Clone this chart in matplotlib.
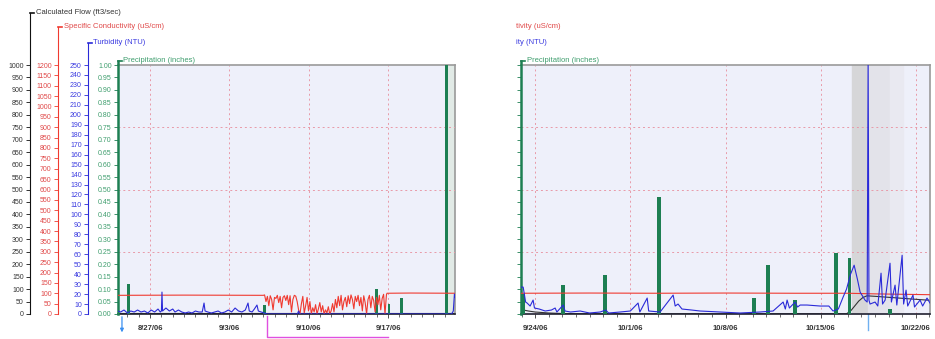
import matplotlib
matplotlib.use("Agg")
import matplotlib.pyplot as plt
import matplotlib.dates as mdates
from matplotlib.lines import Line2D
import numpy as np
import pandas as pd

plt.rcParams['font.family'] = ['Liberation Sans', 'DejaVu Sans']

W, H = 935, 339

# ---------------- left screen (days after 8/24/06 00:00) ----------------
left_origin = "2006-08-24"
left_span = (0.17, 29.9)

left_rain_day = [1.13, 13.06, 23.0, 24.08, 25.15, 29.12]
left_rain_in = [0.12, 0.035, 0.10, 0.04, 0.065, 1.00]

left_flow = [(0.17, 3), (29.9, 3)]

# conductivity: flat, then a noisy stretch logged every 3 h, then flat again
left_cond_before = [(0.17, 90), (6.0, 91), (13.0, 90)]
left_cond_noisy_start = 13.1
left_cond_noisy = [92, 60, 85, 40, 88, 70, 20, 80,
                   75, 90, 55, 85, 30, 80, 88, 65,
                   90, 45, 88, 10, 70, 90, 86, 60,
                   20, 0, 50, 85, 5, 40, 80, 15,
                   60, 0, 30, 10, 45, 0, 25, 55,
                   10, 40, 0, 20, 5, 35, 0, 15,
                   50, 10, 70, 30, 85, 40, 90, 20,
                   60, 80, 35, 88, 50, 92, 70, 25,
                   85, 60, 90, 40, 80, 15, 88, 55,
                   0, 70, 90, 30, 85, 65, 10, 80,
                   45, 90, 20, 75, 95, 0, 92]
left_cond_after = [(23.9, 100), (26.0, 101), (29.9, 100)]

left_turb_day = [0.17, 0.4, 0.7, 1.0, 1.3, 1.6, 1.9, 2.2, 2.5, 2.8,
                 3.1, 3.4, 3.7, 3.9, 4.0, 4.05, 4.1, 4.4, 4.7, 5.0,
                 5.2, 5.5, 5.8, 6.1, 6.4, 6.7, 7.0, 7.3, 7.6, 7.76,
                 7.85, 8.1, 8.4, 8.7, 9.0, 9.3, 9.6, 9.9, 10.2, 10.5,
                 10.8, 11.1, 11.4, 11.64, 11.75, 12.0, 12.2, 12.43, 12.55, 12.8,
                 13.1, 13.3, 16.0, 16.1, 16.2, 28.5, 29.6, 29.75, 29.85, 29.9]
left_turb_ntu = [3, 2, 4, 1, 3, 2, 4, 2, 3, 1,
                 4, 2, 5, 2, 3, 22, 3, 6, 3, 5,
                 2, 4, 2, 1, 2, 1, 3, 2, 2, 11,
                 3, 2, 1, 2, 3, 1, 2, 4, 2, 6,
                 3, 2, 4, 11, 3, 2, 5, 9, 3, 2,
                 1, 0, 0, 3, 0, 0, 0, 3, 20, 17]

# ---------------- right screen (days after 9/23/06 00:00) ----------------
right_origin = "2006-09-23"
right_span = (-0.04, 30.04)

right_rain_day = [0.12, 3.06, 6.15, 10.12, 17.1, 18.13, 20.1, 23.13, 24.1, 27.1]
right_rain_in = [0.08, 0.115, 0.155, 0.47, 0.065, 0.195, 0.055, 0.245, 0.225, 0.02]

right_flow = [(-0.04, 18), (0.5, 12), (1.0, 8), (2.0, 4), (3.0, 2), (5.0, 1),
              (23.9, 1), (24.2, 12), (24.5, 32), (24.8, 52), (25.1, 66), (25.4, 73),
              (26.0, 71), (27.0, 67), (28.0, 63), (29.0, 59), (30.04, 55)]

right_cond = [(-0.04, 100), (5, 101), (10, 100), (15, 101), (20, 100),
              (24, 100), (26, 97), (28, 95), (30.04, 93)]

right_turb = [(-0.04, 27), (0.12, 27), (0.3, 12), (0.41, 11), (0.63, 8), (0.85, 14),
              (0.95, 6), (1.3, 5), (1.74, 3), (2.2, 4), (2.47, 6), (2.6, 2), (3.06, 9),
              (3.2, 3), (3.6, 2), (4.31, 3), (5.0, 1), (5.78, 2), (6.2, 4), (6.4, 1),
              (7.25, 2), (8.0, 3), (8.57, 11), (8.7, 2), (9.24, 16), (9.35, 3),
              (10.19, 2), (11.15, 19), (11.3, 8), (11.51, 10), (11.8, 5), (12.5, 4),
              (13.13, 3), (14.6, 2), (16.07, 1), (17.54, 2), (18.5, 3), (19.24, 12),
              (19.4, 5), (19.53, 14), (19.7, 6), (20.12, 12), (20.3, 7), (20.49, 9),
              (21.0, 9), (21.96, 8), (22.6, 8), (22.91, 3), (23.3, 5), (23.65, 17),
              (23.9, 25), (24.2, 40), (24.46, 49), (24.7, 35), (24.9, 22), (25.26, 14),
              (25.42, 12), (25.49, 260), (25.55, 14), (25.63, 10), (26.0, 12), (26.2, 8),
              (26.44, 41), (26.55, 10), (26.74, 14), (27.1, 51), (27.2, 12), (27.47, 29),
              (27.6, 9), (27.99, 59), (28.1, 10), (28.28, 24), (28.4, 8), (28.79, 19),
              (28.9, 7), (29.31, 14), (29.5, 8), (29.82, 16), (30.04, 11)]

flow_ticks = list(range(0, 1001, 50))
cond_ticks = list(range(0, 1201, 50))
turb_ticks = list(range(0, 251, 10))
rain_ticks = [i / 20 for i in range(21)]
rain_grid = [0.25, 0.5, 0.75]

BLACK, RED, BLUE, GREEN = '#111111', '#f03a30', '#2a2ad8', '#1d7f52'
RED_T, BLUE_T, GREEN_T = '#e04848', '#3a3ae0', '#3f9e6e'


def xnum(origin, days):
    return mdates.date2num(pd.Timestamp(origin).to_pydatetime()) + np.asarray(days, float)


def unzip(pairs):
    return [p[0] for p in pairs], [p[1] for p in pairs]


fig = plt.figure(figsize=(W / 100, H / 100), dpi=100)


def fig_text(x, y, s, color):
    fig.text(x / W, 1 - y / H, s, color=color, fontsize=5.5, va='center', ha='left')


def fig_dash(x0, x1, y, color):
    fig.add_artist(Line2D([x0 / W, x1 / W], [1 - y / H, 1 - y / H], color=color, lw=1.2,
                          transform=fig.transFigure))


def make_panel(left, right, origin, span, rain_d, rain_v, flow, cond, turb, side_axes):
    rect = [left / W, (H - 314) / H, (right - left) / W, 249 / H]
    ax_f = fig.add_axes(rect)
    ax_r = fig.add_axes(rect, sharex=ax_f)
    ax_c = fig.add_axes(rect, sharex=ax_f)
    ax_t = fig.add_axes(rect, sharex=ax_f)
    ax_f.set_facecolor('#eef0fa')
    for ax in (ax_r, ax_c, ax_t):
        ax.patch.set_visible(False)
        ax.tick_params(axis='x', which='both', bottom=False, labelbottom=False)
        for s in ('top', 'right', 'bottom'):
            ax.spines[s].set_visible(False)

    ax_f.set_xlim(xnum(origin, span))
    ax_f.xaxis.set_major_locator(mdates.WeekdayLocator(byweekday=mdates.SU))
    ax_f.xaxis.set_minor_locator(mdates.DayLocator())
    ax_f.xaxis.set_major_formatter(mdates.DateFormatter('%-m/%-d/%y'))
    ax_f.tick_params(axis='x', which='major', length=3, width=0.6, pad=5,
                     labelsize=5.5, labelcolor='#333333', color='#333333')
    ax_f.tick_params(axis='x', which='minor', length=2, width=0.5, color='#333333')
    for lab in ax_f.get_xticklabels():
        lab.set_fontweight('bold')
    ax_f.grid(axis='x', which='major', color='#e89aa8', ls=(0, (2, 3)), lw=0.7)
    for s in ('top', 'right'):
        ax_f.spines[s].set_color('#9a9a9a')
        ax_f.spines[s].set_linewidth(1.2)
    ax_f.spines['bottom'].set_color('#202030')
    ax_f.spines['bottom'].set_linewidth(1.2)

    ax_f.set_ylim(0, 1000)
    ax_f.set_yticks(flow_ticks)
    ax_c.set_ylim(0, 1200)
    ax_c.set_yticks(cond_ticks)
    ax_t.set_ylim(0, 250)
    ax_t.set_yticks(turb_ticks)
    ax_r.set_ylim(0, 1)
    ax_r.set_yticks(rain_ticks)
    ax_r.yaxis.set_major_formatter('{x:.2f}')

    specs = [(ax_f, 88, BLACK, '#333333', 1209), (ax_c, 60, RED, RED_T, 1383),
             (ax_t, 30, BLUE, BLUE_T, 272), (ax_r, 0, GREEN, GREEN_T, 1.016)]
    for ax, off, col, tcol, top in specs:
        sp = ax.spines['left']
        if ax is ax_r or side_axes:
            sp.set_position(('outward', off * 0.72))
            sp.set_color(col)
            sp.set_linewidth(1.8 if ax is ax_r else 0.8)
            sp.set_bounds(0, top)
            ax.tick_params(axis='y', length=3, width=0.6, color=col, labelsize=5,
                           labelcolor=tcol, pad=1.5, labelleft=side_axes)
        else:
            sp.set_visible(False)
            ax.tick_params(axis='y', left=False, labelleft=False)

    # day/night style shading bands and grid
    for v in rain_grid:
        ax_r.axhline(v, color='#e89aa8', ls=(0, (2, 3)), lw=0.7, zorder=0.5)

    ax_r.bar(xnum(origin, rain_d), rain_v, width=0.25, color=GREEN, zorder=1)
    fd, fv = unzip(flow)
    ax_f.plot(xnum(origin, fd), fv, color='#333333', lw=0.8)
    cd, cv = cond
    ax_c.plot(xnum(origin, cd), cv, color=RED, lw=0.8)
    td, tv = turb
    ax_t.plot(xnum(origin, td), tv, color=BLUE, lw=0.8)
    return ax_f


# assemble left conductivity
bd, bv = unzip(left_cond_before)
ad, av = unzip(left_cond_after)
nd = list(left_cond_noisy_start + 0.125 * np.arange(len(left_cond_noisy)))
left_cond = (bd + nd + ad, bv + left_cond_noisy + av)

axL = make_panel(118, 455, left_origin, left_span, left_rain_day, left_rain_in,
                 left_flow, left_cond, (left_turb_day, left_turb_ntu), True)
axL.axvspan(*xnum(left_origin, [29.2, 29.9]), color='#e1eae6', zorder=0)

rd, rv = unzip(right_turb)
axR = make_panel(521, 930, right_origin, right_span, right_rain_day, right_rain_in,
                 right_flow, unzip(right_cond), (rd, rv), False)
axR.axvspan(*xnum(right_origin, [24.3, 25.49]), color='#d6d6d8', zorder=0)
axR.axvspan(*xnum(right_origin, [25.49, 27.1]), color='#e3e3ea', zorder=0)
axR.axvspan(*xnum(right_origin, [27.1, 28.05]), color='#e9e9f1', zorder=0)

# cursor marks under the time axis
tL = axL.get_xaxis_transform()
cx = xnum(left_origin, [0.52])[0]
axL.annotate('', xy=(cx, -0.085), xytext=(cx, 0.0), xycoords=tL, textcoords=tL,
             arrowprops=dict(arrowstyle='-|>', color='#3a8ff0', lw=0.9, mutation_scale=5),
             annotation_clip=False)
m0, m1 = xnum(left_origin, [13.32, 24.0])
axL.plot([m0, m0, m1], [-0.01, -0.093, -0.093], transform=tL, clip_on=False,
         color='#e050e0', lw=1)
tR = axR.get_xaxis_transform()
cr = xnum(right_origin, [25.49])[0]
axR.plot([cr, cr], [0, -0.065], transform=tR, clip_on=False, color='#70b0f0', lw=1)

# axis titles
fig_dash(30, 34, 13, BLACK)
fig_text(36, 12, 'Calculated Flow (ft3/sec)', '#333333')
fig_dash(58, 62, 27, RED)
fig_text(64, 27, 'Specific Conductivity (uS/cm)', RED_T)
fig_dash(88, 92, 43, BLUE)
fig_text(93, 43, 'Turbidity (NTU)', BLUE_T)
fig_dash(118, 122, 61, GREEN)
fig_text(123, 60, 'Precipitation (inches)', GREEN_T)

fig_text(516, 27, 'tivity (uS/cm)', RED_T)
fig_text(516, 43, 'ity (NTU)', BLUE_T)
fig_dash(521, 525, 61, GREEN)
fig_text(527, 60, 'Precipitation (inches)', GREEN_T)

fig.savefig('out.png', dpi=100)
